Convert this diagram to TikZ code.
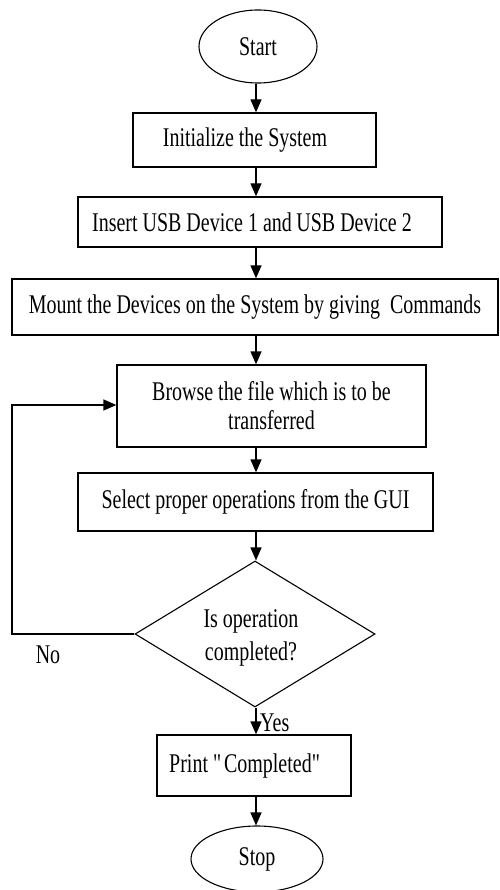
\documentclass[tikz,border=0pt]{standalone}
\usepackage{fontspec}
\setmainfont{Liberation Serif}[FakeStretch=0.74]
\usetikzlibrary{arrows.meta,shapes.geometric}
\begin{document}
\begin{tikzpicture}[x=1pt,y=-1pt,
  every node/.style={font=\fontsize{27}{29}\selectfont, inner sep=0pt},
  procbox/.style={draw, line width=1.3pt, rectangle, align=center},
  term/.style={draw, line width=1.1pt, ellipse},
  decision/.style={draw, line width=1.1pt, diamond, aspect=1.64, align=center},
  arr/.style={line width=1.3pt, -{Triangle[length=13pt,width=11pt]}},
  lbl/.style={}
]
\useasboundingbox (0,0) rectangle (499,890);
\coordinate (spine) at (256,0);
\node[term, minimum width=118, minimum height=73] (start) at (258,46.5) {Start};
\node[procbox, minimum width=243, minimum height=54] (init) at (254.5,140) {Initialize the System\hspace*{19pt}};
\node[procbox, minimum width=364, minimum height=50] (insert) at (260,222) {Insert USB Device 1 and\,USB Device 2\hspace*{16pt}};
\node[procbox, minimum width=486, minimum height=56] (mount) at (255,307) {Mount the Devices on the System by giving~ Commands};
\node[procbox, minimum width=309, minimum height=82] (browse) at (271.5,406) {Browse the file which is to be\\transferred};
\node[procbox, minimum width=355, minimum height=58] (select) at (255.5,502) {Select proper operations from the GUI};
\node[decision, minimum width=240, minimum height=146] (dec) at (255,634) {};
\node[font=\fontsize{27}{33}\selectfont, align=center] (dectext) at (251,638) {Is operation\\completed?};
\node[procbox, minimum width=194, minimum height=61] (print) at (254,765.5) {Print \textquotedbl Completed\textquotedbl\hspace*{16pt}};
\node[term, minimum width=132, minimum height=66] (stop) at (257,859) {Stop};
\coordinate (loopc) at (12,405);
\node[lbl] (no) at (48,655) {No};
\node[lbl, anchor=west] (yes) at (260,723) {Yes};

\draw[arr] (start.south -| spine) -- (init.north -| spine);
\draw[arr] (init.south -| spine) -- (insert.north -| spine);
\draw[arr] (insert.south -| spine) -- (mount.north -| spine);
\draw[arr] (mount.south -| spine) -- (browse.north -| spine);
\draw[arr] (browse.south -| spine) -- (select.north -| spine);
\draw[arr] (select.south -| spine) -- (dec.north -| spine);
\draw[arr] (dec.south -| spine) -- (print.north -| spine);
\draw[arr] (print.south -| spine) -- (stop.north -| spine);
\draw[arr] (dec.west) -| (loopc) -- (loopc -| browse.west);
\end{tikzpicture}
\end{document}
